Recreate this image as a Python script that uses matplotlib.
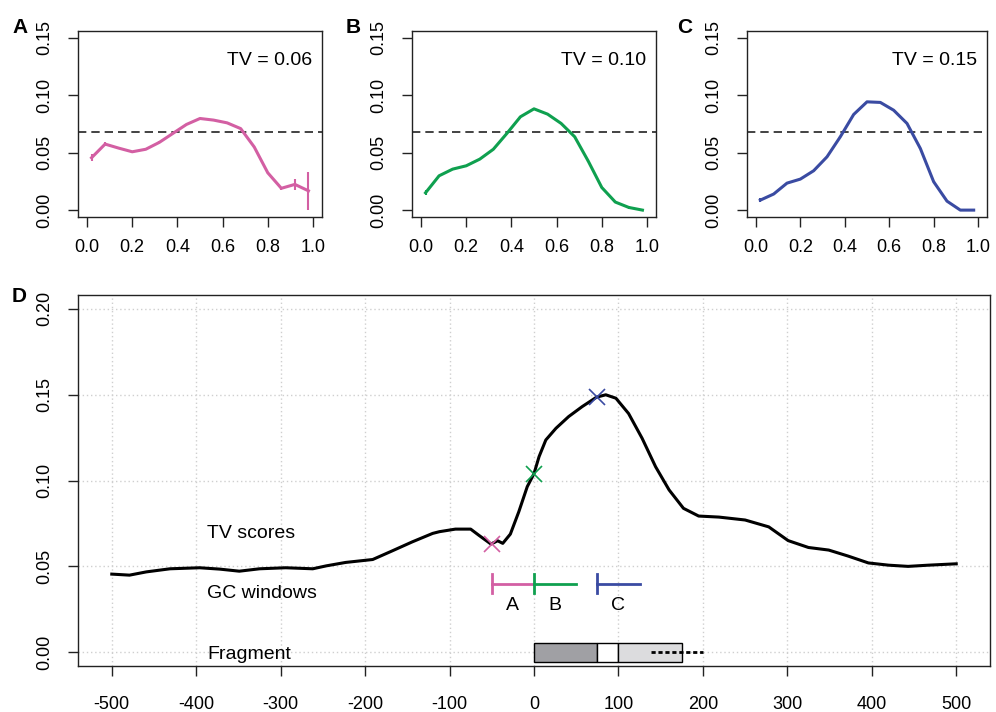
import matplotlib
matplotlib.use("Agg")
import matplotlib.pyplot as plt
from matplotlib.patches import Rectangle

plt.rcParams["font.family"] = ["Liberation Sans", "DejaVu Sans"]

# --- Daten ---
gc_x = [0.02, 0.08, 0.14, 0.20, 0.26, 0.32, 0.38, 0.44, 0.50,
        0.56, 0.62, 0.68, 0.74, 0.80, 0.86, 0.92, 0.98]
tv_a = [0.0456, 0.0575, 0.054, 0.0508, 0.053, 0.059, 0.0668, 0.0746, 0.0798,
        0.0784, 0.076, 0.071, 0.055, 0.0325, 0.019, 0.0224, 0.0168]
err_a = [0.003, 0.0015, 0.0008, 0.0008, 0.0008, 0.0008, 0.0008, 0.0008, 0.0008,
         0.0008, 0.0008, 0.0008, 0.0008, 0.001, 0.0015, 0.005, 0.0165]
tv_b = [0.0151, 0.0299, 0.0357, 0.0386, 0.0444, 0.053, 0.0668, 0.0813, 0.0882,
        0.0836, 0.0755, 0.0639, 0.0427, 0.0197, 0.007, 0.0023, 0.0]
err_b = [0.002, 0.001, 0.0005, 0.0005, 0.0005, 0.0005, 0.0005, 0.0005, 0.0005,
         0.0005, 0.0005, 0.0005, 0.0005, 0.0005, 0.0005, 0.001, 0.0005]
tv_c = [0.0087, 0.014, 0.0235, 0.027, 0.0343, 0.0464, 0.0639, 0.0833, 0.0943,
        0.0938, 0.087, 0.0755, 0.0537, 0.0247, 0.0078, 0.0, 0.0]
err_c = [0.0015, 0.0005, 0.0005, 0.0005, 0.0005, 0.0005, 0.0005, 0.0005, 0.0005,
         0.0005, 0.0005, 0.0005, 0.0005, 0.0005, 0.0005, 0.0005, 0.0005]
tv_werte = ["0.06", "0.10", "0.15"]
schwelle = 0.068

pos = [-500, -479, -459, -431, -396, -372, -349, -325, -294, -262, -246, -223,
       -191, -168, -144, -120, -112, -93, -75, -65, -51, -43, -37, -28, -18, -8,
       0, 6, 14, 26, 41, 57, 74, 85, 97, 112, 128, 144, 160, 177, 195, 219, 250,
       278, 301, 325, 349, 372, 396, 420, 443, 467, 500]
tv_score = [0.0455, 0.0449, 0.0468, 0.0486, 0.0492, 0.0484, 0.0472, 0.0486,
            0.0492, 0.0486, 0.0503, 0.0523, 0.054, 0.059, 0.0643, 0.0692,
            0.0702, 0.0717, 0.0717, 0.068, 0.063, 0.0649, 0.0634, 0.0688,
            0.0818, 0.0964, 0.104, 0.1139, 0.1236, 0.1304, 0.1372, 0.143,
            0.1485, 0.1499, 0.1479, 0.139, 0.1246, 0.108, 0.0945, 0.0838,
            0.0793, 0.0787, 0.077, 0.073, 0.065, 0.061, 0.0595, 0.056, 0.052,
            0.0507, 0.050, 0.0507, 0.0515]

fenster_start = [-50, 0, 75]
fenster_ende = [0, 50, 125]
fenster_tv = [0.063, 0.104, 0.1485]
fenster_namen = ["A", "B", "C"]
farben = ["#D35FA3", "#0FA04F", "#3A4BA2"]

# Fragment: (start, ende, farbe)
frag_start = [0, 75, 100]
frag_ende = [75, 100, 175]
frag_farbe = ["#A0A0A4", "white", "#DCDCDE"]
frag_linie = [138, 200]

W, H = 996, 712
fig = plt.figure(figsize=(W / 100, H / 100), dpi=100)


def rect(l, t, r, b):
    return [l / W, 1 - b / H, (r - l) / W, (b - t) / H]


def r_achsen(ax, xpad, ypad):
    for s in ax.spines.values():
        s.set_linewidth(1.0)
        s.set_color("#222222")
    ax.tick_params(direction="out", length=7.5, width=1.0, labelsize=13,
                   color="#222222")
    ax.tick_params(axis="x", pad=xpad)
    ax.tick_params(axis="y", pad=ypad)
    for lab in ax.get_yticklabels():
        lab.set_rotation(90)
        lab.set_va("center")


kleine = [(78, 322, "A", 12), (412, 656, "B", 346), (747, 987, "C", 677)]
serien = [(tv_a, err_a), (tv_b, err_b), (tv_c, err_c)]
for i, ((l, r, buchst, bx), (y, e)) in enumerate(zip(kleine, serien)):
    ax = fig.add_axes(rect(l, 31, r, 217))
    ax.set_xlim(-0.04, 1.04)
    ax.set_ylim(-0.006, 0.156)
    ax.axhline(schwelle, color="#222222", lw=1.2, dashes=(5, 3))
    ax.errorbar(gc_x, y, yerr=e, color=farben[i], lw=2.2, elinewidth=1.5,
                capsize=0)
    ax.text(0.997, 0.13, f"TV = {tv_werte[i]}", ha="right", va="center",
            fontsize=14)
    ax.set_xticks([0, 0.2, 0.4, 0.6, 0.8, 1.0])
    ax.set_xticklabels(["0.0", "0.2", "0.4", "0.6", "0.8", "1.0"])
    ax.set_yticks([0, 0.05, 0.10, 0.15])
    ax.set_yticklabels(["0.00", "0.05", "0.10", "0.15"])
    r_achsen(ax, 8, 10)
    fig.text(bx / W, 1 - 33 / H, buchst, fontsize=15, fontweight="bold",
             ha="left", va="baseline")

# --- Panel D ---
ax = fig.add_axes(rect(78, 295, 990, 666))
ax.set_xlim(-540, 540)
ax.set_ylim(-0.008, 0.208)
xt = list(range(-500, 501, 100))
yt = [0, 0.05, 0.10, 0.15, 0.20]
for x in xt:
    ax.axvline(x, color="#CFCFCF", lw=1, ls=(0, (1, 2)), zorder=0)
for y in yt:
    ax.axhline(y, color="#CFCFCF", lw=1, ls=(0, (1, 2)), zorder=0)

ax.plot(pos, tv_score, color="black", lw=2.2, zorder=3)
for i in range(3):
    ax.plot(fenster_start[i], fenster_tv[i], marker="x", ms=11, mew=1.2,
            color=farben[i], zorder=4)
    ax.plot([fenster_start[i], fenster_ende[i]], [0.040, 0.040],
            color=farben[i], lw=2, zorder=3)
    ax.plot([fenster_start[i], fenster_start[i]], [0.0345, 0.0455],
            color=farben[i], lw=2, zorder=3)
    ax.text((fenster_start[i] + fenster_ende[i]) / 2, 0.0245, fenster_namen[i],
            ha="center", va="baseline", fontsize=14)

for s, e, f in zip(frag_start, frag_ende, frag_farbe):
    ax.add_patch(Rectangle((s, -0.0055), e - s, 0.011, facecolor=f,
                           edgecolor="black", lw=1, zorder=3))
ax.plot(frag_linie, [0, 0], color="black", lw=2, ls=(0, (1.5, 1)), zorder=4)

ax.text(-387, 0.0665, "TV scores", ha="left", va="baseline", fontsize=14)
ax.text(-387, 0.0315, "GC windows", ha="left", va="baseline", fontsize=14)
ax.text(-387, -0.004, "Fragment", ha="left", va="baseline", fontsize=14)

ax.set_xticks(xt)
ax.set_xticklabels([str(x) for x in xt])
ax.set_yticks(yt)
ax.set_yticklabels(["0.00", "0.05", "0.10", "0.15", "0.20"])
r_achsen(ax, 14, 10)
fig.text(12 / W, 1 - 302 / H, "D", fontsize=15, fontweight="bold",
         ha="left", va="baseline")

fig.savefig("out.png", dpi=100)
